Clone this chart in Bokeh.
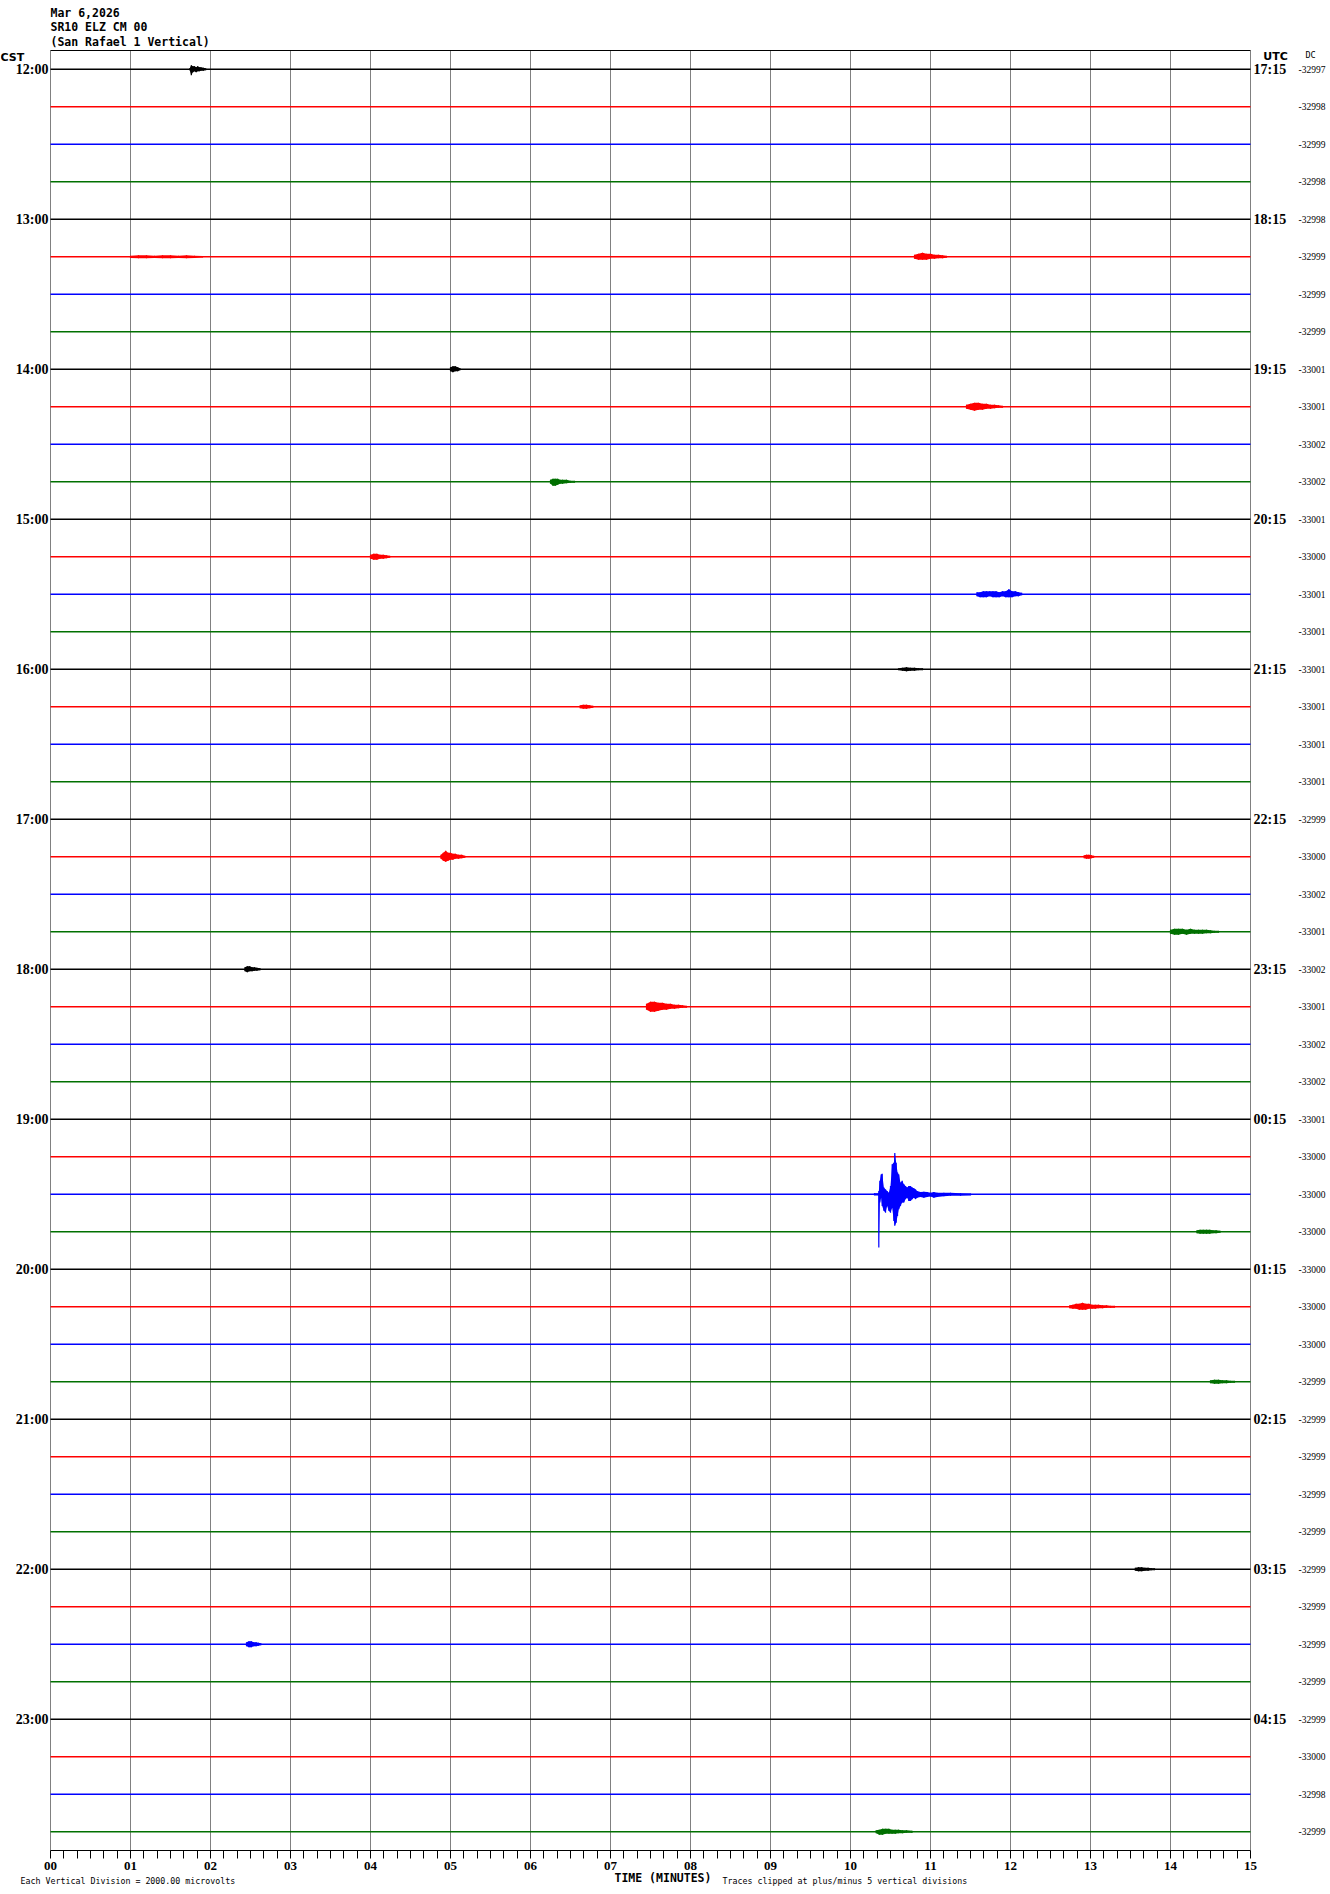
from bokeh.plotting import figure
from bokeh.models import (Range1d, LinearAxis, FixedTicker, Label, LabelSet,
                          ColumnDataSource)
from bokeh.embed import file_html
from bokeh.resources import INLINE

# ---------------- data ----------------
DATE_LINE = "Mar 6,2026"
STATION = "SR10 ELZ CM 00"
SITE = "(San Rafael 1 Vertical)"
UV_PER_DIV = 2000.0          # microvolts per vertical division (= trace spacing)
CLIP_DIVS = 5

MINUTES = list(range(16))
MINUTE_LABELS = ["00", "01", "02", "03", "04", "05", "06", "07",
                 "08", "09", "10", "11", "12", "13", "14", "15"]
CST_HOURS = ["12:00", "13:00", "14:00", "15:00", "16:00", "17:00",
             "18:00", "19:00", "20:00", "21:00", "22:00", "23:00"]
UTC_HOURS = ["17:15", "18:15", "19:15", "20:15", "21:15", "22:15",
             "23:15", "00:15", "01:15", "02:15", "03:15", "04:15"]
DC_VALUES = [-32997, -32998, -32999, -32998, -32998, -32999, -32999, -32999,
             -33001, -33001, -33002, -33002, -33001, -33000, -33001, -33001,
             -33001, -33001, -33001, -33001, -32999, -33000, -33002, -33001,
             -33002, -33001, -33002, -33002, -33001, -33000, -33000, -33000,
             -33000, -33000, -33000, -32999, -32999, -32999, -32999, -32999,
             -32999, -32999, -32999, -32999, -32999, -33000, -32998, -32999]
TRACE_COLORS = ["#000000", "#ff0000", "#0000ff", "#007000"]

# events: sample times (minutes) and envelope (microvolts, + up / - down)
EV00_T = [1.74, 1.76, 1.78, 1.80, 1.82, 1.84, 1.86, 1.88, 1.91, 1.94]
EV00_HI = [50, 210, 160, 160, 110, 160, 110, 110, 80, 50]
EV00_LO = [-50, -320, -160, -110, -160, -110, -110, -80, -80, -50]

EV05A_T = [1.00, 1.10, 1.20, 1.30, 1.40, 1.50, 1.60, 1.70, 1.80, 1.90]
EV05A_HI = [60, 80, 80, 60, 80, 80, 60, 80, 60, 40]

EV05B_T = [10.80, 10.85, 10.90, 10.95, 11.00, 11.05, 11.10, 11.15, 11.20]
EV05B_HI = [110, 160, 210, 160, 160, 110, 110, 80, 50]
EV05B_LO = [-110, -160, -160, -160, -110, -110, -80, -80, -50]

EV08_T = [5.00, 5.03, 5.06, 5.09, 5.12]
EV08_HI = [110, 160, 160, 110, 50]
EV08_LO = [-110, -160, -110, -110, -50]

EV09_T = [11.45, 11.50, 11.55, 11.60, 11.65, 11.70, 11.75, 11.80, 11.85, 11.90]
EV09_HI = [110, 160, 210, 210, 160, 160, 110, 110, 80, 50]
EV09_LO = [-110, -160, -210, -160, -160, -110, -110, -80, -50, -50]

EV11_T = [6.25, 6.28, 6.31, 6.34, 6.37, 6.40, 6.45, 6.50, 6.55]
EV11_HI = [110, 160, 160, 160, 110, 110, 110, 50, 50]
EV11_LO = [-110, -210, -210, -160, -110, -110, -80, -50, -50]

EV13_T = [4.00, 4.04, 4.08, 4.12, 4.16, 4.20, 4.24]
EV13_HI = [110, 160, 160, 110, 110, 80, 50]

EV14_T = [11.58, 11.62, 11.66, 11.70, 11.74, 11.78, 11.82, 11.86, 11.90,
          11.94, 11.98, 12.02, 12.06, 12.10, 12.14]
EV14_HI = [110, 110, 160, 160, 160, 160, 160, 110, 160, 160, 270, 160, 160, 110, 80]
EV14_LO = [-110, -160, -160, -160, -110, -160, -160, -160, -110, -160, -160,
           -160, -110, -110, -50]

EV16_T = [10.60, 10.65, 10.70, 10.75, 10.80, 10.85, 10.90]
EV16_HI = [50, 80, 110, 80, 80, 50, 50]

EV17_T = [6.62, 6.66, 6.70, 6.74, 6.78]
EV17_HI = [80, 110, 110, 80, 50]

EV21A_T = [4.88, 4.91, 4.94, 4.97, 5.00, 5.03, 5.06, 5.10, 5.14, 5.18]
EV21A_HI = [110, 210, 320, 210, 210, 160, 160, 110, 110, 50]
EV21A_LO = [-110, -210, -270, -210, -160, -160, -110, -110, -80, -50]

EV21B_T = [12.92, 12.95, 12.98, 13.01, 13.04]
EV21B_HI = [80, 110, 110, 80, 50]

EV23_T = [14.00, 14.05, 14.10, 14.15, 14.20, 14.25, 14.30, 14.35, 14.40,
          14.45, 14.50, 14.55, 14.60]
EV23_HI = [110, 160, 160, 160, 110, 160, 110, 110, 110, 110, 80, 50, 50]
EV23_LO = [-110, -160, -160, -110, -160, -110, -110, -110, -110, -80, -80, -50, -50]

EV24_T = [2.43, 2.46, 2.49, 2.52, 2.55, 2.58, 2.62]
EV24_HI = [110, 160, 160, 110, 110, 80, 50]
EV24_LO = [-110, -160, -110, -110, -80, -80, -50]

EV25_T = [7.45, 7.50, 7.55, 7.60, 7.65, 7.70, 7.75, 7.80, 7.85, 7.90, 7.95]
EV25_HI = [160, 270, 270, 210, 210, 160, 160, 110, 110, 80, 50]
EV25_LO = [-160, -270, -270, -210, -160, -160, -110, -110, -80, -50, -50]

# the large local event on the 19:30 trace
EV30_T = [10.300, 10.350, 10.354, 10.367, 10.383, 10.396, 10.417, 10.438,
          10.458, 10.479, 10.500, 10.521, 10.542, 10.554, 10.571, 10.588,
          10.604, 10.625, 10.646, 10.667, 10.688, 10.708, 10.729, 10.750,
          10.771, 10.792, 10.813, 10.833, 10.875, 10.917, 10.958, 11.000,
          11.042, 11.083, 11.167, 11.250, 11.375, 11.500]
EV30_HI = [60, 60, 180, 720, 1060, 1100, 360, 260,
           180, 80, 440, 1600, 1680, 2200, 1680, 1160,
           1060, 620, 720, 540, 440, 360, 440, 440,
           360, 320, 260, 180, 120, 140, 120, 80,
           120, 80, 80, 80, 60, 40]
EV30_LO = [-60, -60, -2840, -440, -180, -620, -880, -980,
           -620, -880, -980, -720, -1420, -1680, -1520, -1160,
           -800, -620, -440, -440, -260, -180, -360, -360,
           -260, -180, -260, -180, -140, -180, -140, -120,
           -180, -140, -100, -80, -80, -60]

EV31_T = [14.33, 14.37, 14.41, 14.45, 14.49, 14.53, 14.57, 14.62]
EV31_HI = [80, 110, 110, 110, 110, 80, 80, 50]

EV33_T = [12.74, 12.78, 12.82, 12.86, 12.90, 12.94, 12.98, 13.02, 13.06,
          13.10, 13.15, 13.20, 13.25, 13.30]
EV33_HI = [80, 110, 160, 160, 210, 160, 160, 110, 110, 110, 80, 80, 50, 50]
EV33_LO = [-80, -110, -110, -160, -160, -160, -110, -110, -110, -80, -80, -50, -50, -50]

EV35_T = [14.50, 14.55, 14.60, 14.65, 14.70, 14.75, 14.80]
EV35_HI = [80, 110, 110, 80, 80, 50, 50]

EV40_T = [13.56, 13.60, 13.64, 13.68, 13.72, 13.76, 13.80]
EV40_HI = [80, 110, 110, 80, 80, 50, 50]

EV42_T = [2.45, 2.48, 2.51, 2.54, 2.57, 2.60, 2.63]
EV42_HI = [110, 160, 160, 110, 110, 80, 50]

EV47_T = [10.32, 10.36, 10.40, 10.44, 10.48, 10.52, 10.56, 10.60, 10.65, 10.70, 10.77]
EV47_HI = [80, 110, 160, 160, 160, 110, 110, 110, 80, 80, 50]
EV47_LO = [-80, -160, -160, -110, -110, -110, -110, -80, -80, -50, -50]

EVENTS = [
    (0, EV00_T, EV00_HI, EV00_LO), (5, EV05A_T, EV05A_HI, None),
    (5, EV05B_T, EV05B_HI, EV05B_LO), (8, EV08_T, EV08_HI, EV08_LO),
    (9, EV09_T, EV09_HI, EV09_LO), (11, EV11_T, EV11_HI, EV11_LO),
    (13, EV13_T, EV13_HI, None), (14, EV14_T, EV14_HI, EV14_LO),
    (16, EV16_T, EV16_HI, None), (17, EV17_T, EV17_HI, None),
    (21, EV21A_T, EV21A_HI, EV21A_LO), (21, EV21B_T, EV21B_HI, None),
    (23, EV23_T, EV23_HI, EV23_LO), (24, EV24_T, EV24_HI, EV24_LO),
    (25, EV25_T, EV25_HI, EV25_LO), (30, EV30_T, EV30_HI, EV30_LO),
    (31, EV31_T, EV31_HI, None), (33, EV33_T, EV33_HI, EV33_LO),
    (35, EV35_T, EV35_HI, None), (40, EV40_T, EV40_HI, None),
    (42, EV42_T, EV42_HI, None), (47, EV47_T, EV47_HI, EV47_LO),
]

# ---------------- layout (page pixels -> data) ----------------
N_TRACES = len(DC_VALUES)
W, H = 1326, 1890                 # canvas size
FRAME_X0, FRAME_Y0 = 50.0, 50.0   # page px where minute 0 / top of band 0 sit
PX_PER_MIN = 80.0
PX_PER_TRACE = 37.5


def dx(px):
    return (px - FRAME_X0) / PX_PER_MIN


def dy(py):
    return 0.5 - (py - FRAME_Y0) / PX_PER_TRACE


TOP = 0.5
BOTTOM = -(N_TRACES - 0.5)

p = figure(width=W, height=H, title=None,
           x_range=Range1d(dx(0), dx(W)), y_range=Range1d(dy(H), dy(0)),
           output_backend="svg", toolbar_location=None,
           min_border=0, min_border_left=0, min_border_right=0,
           min_border_top=0, min_border_bottom=0)
p.outline_line_color = None
p.background_fill_color = "white"
p.border_fill_color = "white"
p.xgrid.visible = False
p.ygrid.visible = False

# vertical minute lines and top border
p.segment(x0=MINUTES, x1=MINUTES, y0=[TOP] * len(MINUTES), y1=[BOTTOM] * len(MINUTES),
          line_color="#808080", line_width=1)
p.segment(x0=[MINUTES[0]], x1=[MINUTES[-1]], y0=[TOP], y1=[TOP],
          line_color="black", line_width=1)

# bottom time axis (fixed at the bottom of the trace area)
xa = p.xaxis[0]
xa.fixed_location = BOTTOM
xa.bounds = (MINUTES[0], MINUTES[-1])
xa.ticker = FixedTicker(ticks=MINUTES,
                        minor_ticks=[m + k / 6 for m in MINUTES[:-1] for k in range(1, 6)])
xa.major_label_overrides = {m: lab for m, lab in zip(MINUTES, MINUTE_LABELS)}
xa.major_tick_out = 8
xa.major_tick_in = 0
xa.minor_tick_out = 8
xa.minor_tick_in = 0
xa.axis_line_color = "black"
xa.major_tick_line_color = "black"
xa.minor_tick_line_color = "black"
xa.major_label_text_font = "Liberation Serif"
xa.major_label_text_font_style = "bold"
xa.major_label_text_font_size = "13px"
xa.major_label_text_color = "black"
xa.major_label_standoff = 3

hour_ticks = [-4 * h for h in range(len(CST_HOURS))]


def style_hour_axis(ax, labels, standoff, loc):
    ax.fixed_location = loc
    ax.ticker = FixedTicker(ticks=hour_ticks)
    ax.major_label_overrides = {t: lab for t, lab in zip(hour_ticks, labels)}
    ax.axis_line_color = None
    ax.major_tick_line_color = None
    ax.minor_tick_line_color = None
    ax.major_tick_out = 0
    ax.major_tick_in = 0
    ax.minor_tick_out = 0
    ax.minor_tick_in = 0
    ax.major_label_text_font = "Liberation Serif"
    ax.major_label_text_font_style = "bold"
    ax.major_label_text_font_size = "14px"
    ax.major_label_text_color = "black"
    ax.major_label_standoff = standoff


style_hour_axis(p.yaxis[0], CST_HOURS, 2, MINUTES[0])
ra = LinearAxis()
style_hour_axis(ra, UTC_HOURS, 3, MINUTES[-1])
p.add_layout(ra, "right")

# ---------------- traces ----------------
trace_idx = list(range(N_TRACES))
trace_src = ColumnDataSource(dict(
    x0=[MINUTES[0]] * N_TRACES, x1=[MINUTES[-1]] * N_TRACES,
    y=[-i for i in trace_idx],
    color=[TRACE_COLORS[i % 4] for i in trace_idx]))
p.segment(x0="x0", x1="x1", y0="y", y1="y", line_color="color",
          line_width=1.5, source=trace_src)

for tr, ts, hi, lo in EVENTS:
    if lo is None:
        lo = [-v for v in hi]
    col = TRACE_COLORS[tr % 4]
    yh = [-tr + v / UV_PER_DIV for v in hi]
    yl = [-tr + v / UV_PER_DIV for v in lo]
    p.varea(x=ts, y1=yl, y2=yh, fill_color=col)
    p.segment(x0=ts, x1=ts, y0=yl, y1=yh, line_color=col, line_width=1.2)

# ---------------- texts ----------------
mono = "DejaVu Sans Mono"


def add_label(text, px, py, size, bold=False, align="left", font=mono):
    p.add_layout(Label(x=dx(px), y=dy(py), text=text, text_font=font,
                       text_font_size=size,
                       text_font_style="bold" if bold else "normal",
                       text_align=align, text_baseline="middle",
                       text_color="black"))


add_label(DATE_LINE, 50, 12, "11.5px", bold=True)
add_label(STATION, 50, 26, "11.5px", bold=True)
add_label(SITE, 50, 41, "11.5px", bold=True)
add_label("CST", 0, 57, "11px", bold=True, font="DejaVu Sans")
add_label("UTC", 1275, 56, "11px", bold=True, align="center", font="DejaVu Sans")
add_label("DC", 1310, 54, "8.5px", align="center")
add_label("Each Vertical Division = %.2f microvolts" % UV_PER_DIV, 20, 1880, "8.3px")
add_label("TIME (MINUTES)", 614, 1877, "11.5px", bold=True)
add_label("Traces clipped at plus/minus %d vertical divisions" % CLIP_DIVS,
          722, 1880, "8.3px")

dc_src = ColumnDataSource(dict(
    x=[dx(1325)] * N_TRACES, y=[-i for i in trace_idx],
    text=[str(v) for v in DC_VALUES]))
p.add_layout(LabelSet(x="x", y="y", text="text", source=dc_src,
                      text_font=mono, text_font_size="9.5px",
                      text_align="right", text_baseline="middle",
                      text_color="black"))

open("out.html", "w").write(file_html(p, INLINE))
